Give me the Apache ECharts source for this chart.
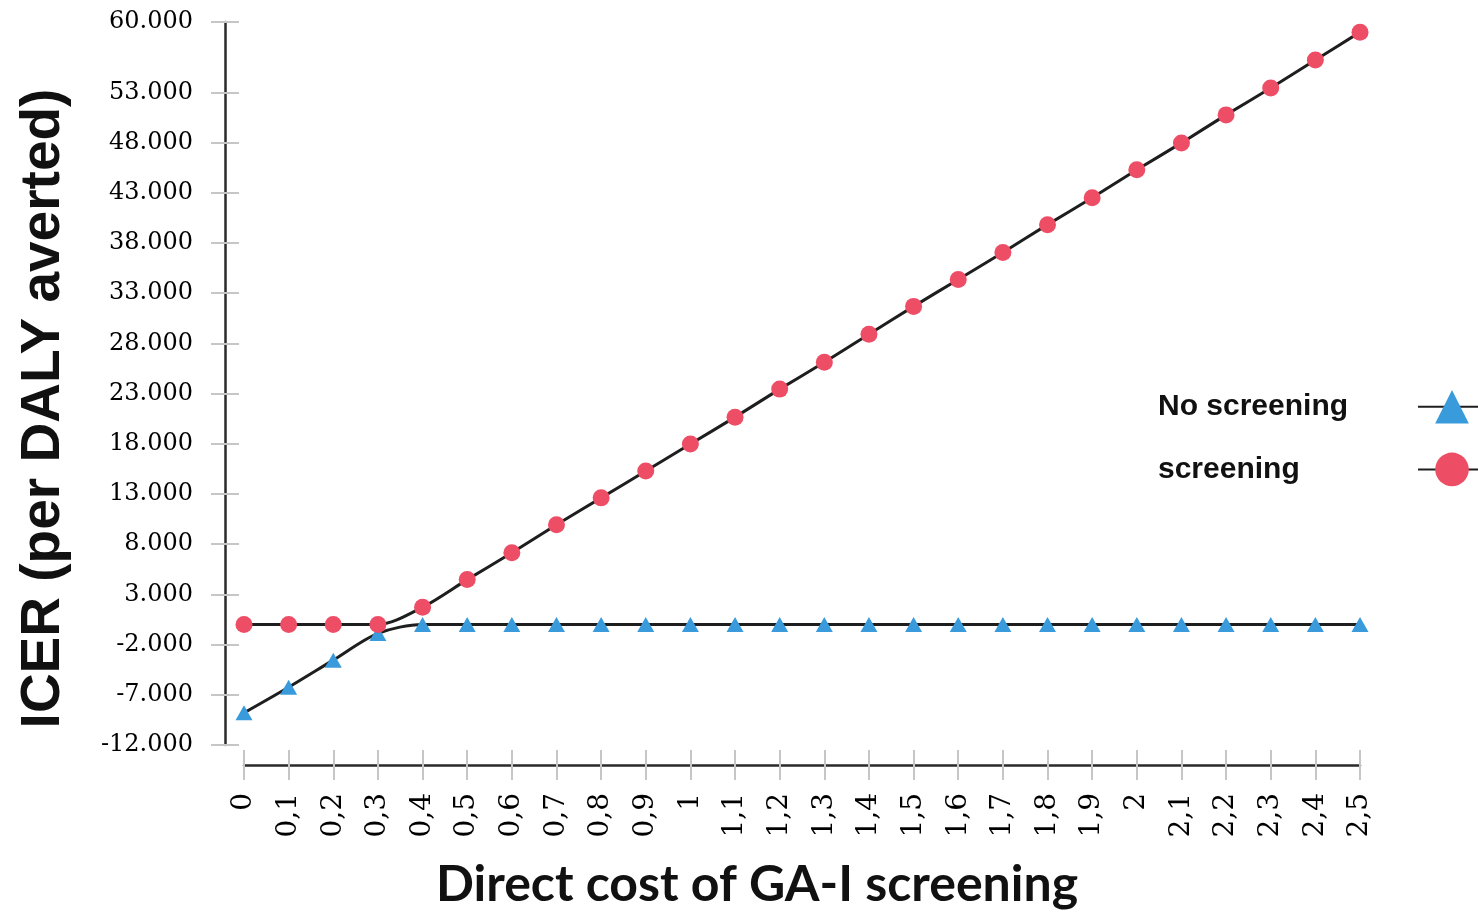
<!DOCTYPE html>
<html>
<head>
<meta charset="utf-8">
<script src="https://cdn.jsdelivr.net/npm/echarts@6/dist/echarts.min.js"></script>
<style>
html,body{margin:0;padding:0;background:#ffffff;}
#c{width:1478px;height:912px;}
</style>
</head>
<body>
<div id="c"></div>
<script>
// ---- data ----
const xLabels = ['0','0,1','0,2','0,3','0,4','0,5','0,6','0,7','0,8','0,9','1',
  '1,1','1,2','1,3','1,4','1,5','1,6','1,7','1,8','1,9','2',
  '2,1','2,2','2,3','2,4','2,5'];
const noScreening = [-8800, -6250, -3550, -890, 0, 0, 0, 0, 0, 0, 0,
  0, 0, 0, 0, 0, 0, 0, 0, 0, 0,
  0, 0, 0, 0, 0];
const screening = [0, 0, 0, 0, 1720, 4470, 7150, 9930, 12610, 15290, 17970,
  20650, 23440, 26120, 28900, 31680, 34360, 37040, 39820, 42500, 45280,
  47960, 50750, 53430, 56210, 58990];
const yTickValues = [-12000, -7000, -2000, 3000, 8000, 13000, 18000, 23000, 28000,
  33000, 38000, 43000, 48000, 53000, 60000];
const seriesNames = ['No screening', 'screening'];
const yTitle = 'ICER (per DALY averted)';
const xTitle = 'Direct cost of GA-I screening';

function fmt(v) {
  const s = Math.round(Math.abs(v)).toString().replace(/\B(?=(\d{3})+(?!\d))/g, '.');
  return (v < 0 ? '-' : '') + s;
}

const chart = echarts.init(document.getElementById('c'), null, {renderer: 'canvas'});
const tickGrey = '#c6c6c6';
const axisDark = '#2a2a2a';

chart.setOption({
  animation: false,
  backgroundColor: '#ffffff',
  grid: {left: 244, right: 118, top: 22, bottom: 167, containLabel: false, outerBoundsMode: 'none'},
  legend: {
    orient: 'vertical',
    left: 1153,
    top: 385,
    align: 'right',
    itemWidth: 68,
    itemHeight: 42,
    itemGap: 29,
    data: seriesNames,
    formatter: '{n|{name}}',
    textStyle: {
      rich: {
        n: {width: 255, align: 'left', fontSize: 30, fontWeight: 'bold',
            fontFamily: 'Liberation Sans', color: '#111111'}
      }
    }
  },
  xAxis: [{
    type: 'category',
    data: xLabels,
    boundaryGap: false,
    position: 'bottom',
    offset: 20,
    axisLine: {show: true, onZero: false, lineStyle: {color: axisDark, width: 2.5}},
    axisTick: {show: true, interval: 0, length: 15, lineStyle: {color: tickGrey, width: 2}},
    axisLabel: {rotate: 90, interval: 0, margin: 28, fontFamily: 'DejaVu Serif', fontSize: 28, color: '#000000'},
    splitLine: {show: false},
    name: xTitle,
    nameLocation: 'middle',
    nameGap: 95,
    nameTextStyle: {fontFamily: 'Lato', fontWeight: 'bold', fontSize: 50, color: '#111111',
      padding: [0, 90, 0, 0]}
  }, {
    type: 'category',
    data: xLabels,
    boundaryGap: false,
    position: 'bottom',
    offset: 20,
    axisLine: {show: false, onZero: false},
    axisTick: {show: true, inside: true, interval: 0, length: 15, lineStyle: {color: tickGrey, width: 2}},
    axisLabel: {show: false},
    splitLine: {show: false}
  }],
  yAxis: [{
    type: 'value',
    min: -12000,
    max: 60000,
    position: 'left',
    offset: 19,
    axisLine: {show: true, onZero: false, lineStyle: {color: axisDark, width: 2.5}},
    axisTick: {show: true, length: 14, customValues: yTickValues, lineStyle: {color: tickGrey, width: 2}},
    axisLabel: {customValues: yTickValues, margin: 32, formatter: fmt,
      fontFamily: 'DejaVu Serif', fontSize: 24, color: '#000000'},
    splitLine: {show: false},
    name: yTitle,
    nameLocation: 'middle',
    nameRotate: 90,
    nameGap: 154,
    nameTextStyle: {fontFamily: 'Liberation Sans', fontWeight: 'bold', fontSize: 55, color: '#111111',
      padding: [0, 50, 0, 0]}
  }, {
    type: 'value',
    min: -12000,
    max: 60000,
    position: 'left',
    offset: 19,
    axisLine: {show: false, onZero: false},
    axisTick: {show: true, inside: true, length: 14, customValues: yTickValues, lineStyle: {color: tickGrey, width: 2}},
    axisLabel: {show: false},
    splitLine: {show: false}
  }],
  series: [{
    name: seriesNames[0],
    type: 'line',
    xAxisIndex: 0,
    yAxisIndex: 0,
    data: noScreening,
    smooth: 0.3,
    symbol: 'triangle',
    symbolSize: [17, 15],
    showAllSymbol: true,
    itemStyle: {color: '#3a9bdc'},
    lineStyle: {color: '#1e1e1e', width: 3}
  }, {
    name: seriesNames[1],
    type: 'line',
    xAxisIndex: 0,
    yAxisIndex: 0,
    data: screening,
    smooth: 0.3,
    symbol: 'circle',
    symbolSize: 17,
    showAllSymbol: true,
    itemStyle: {color: '#ee4d66'},
    lineStyle: {color: '#1e1e1e', width: 3}
  }]
});
</script>
</body>
</html>
